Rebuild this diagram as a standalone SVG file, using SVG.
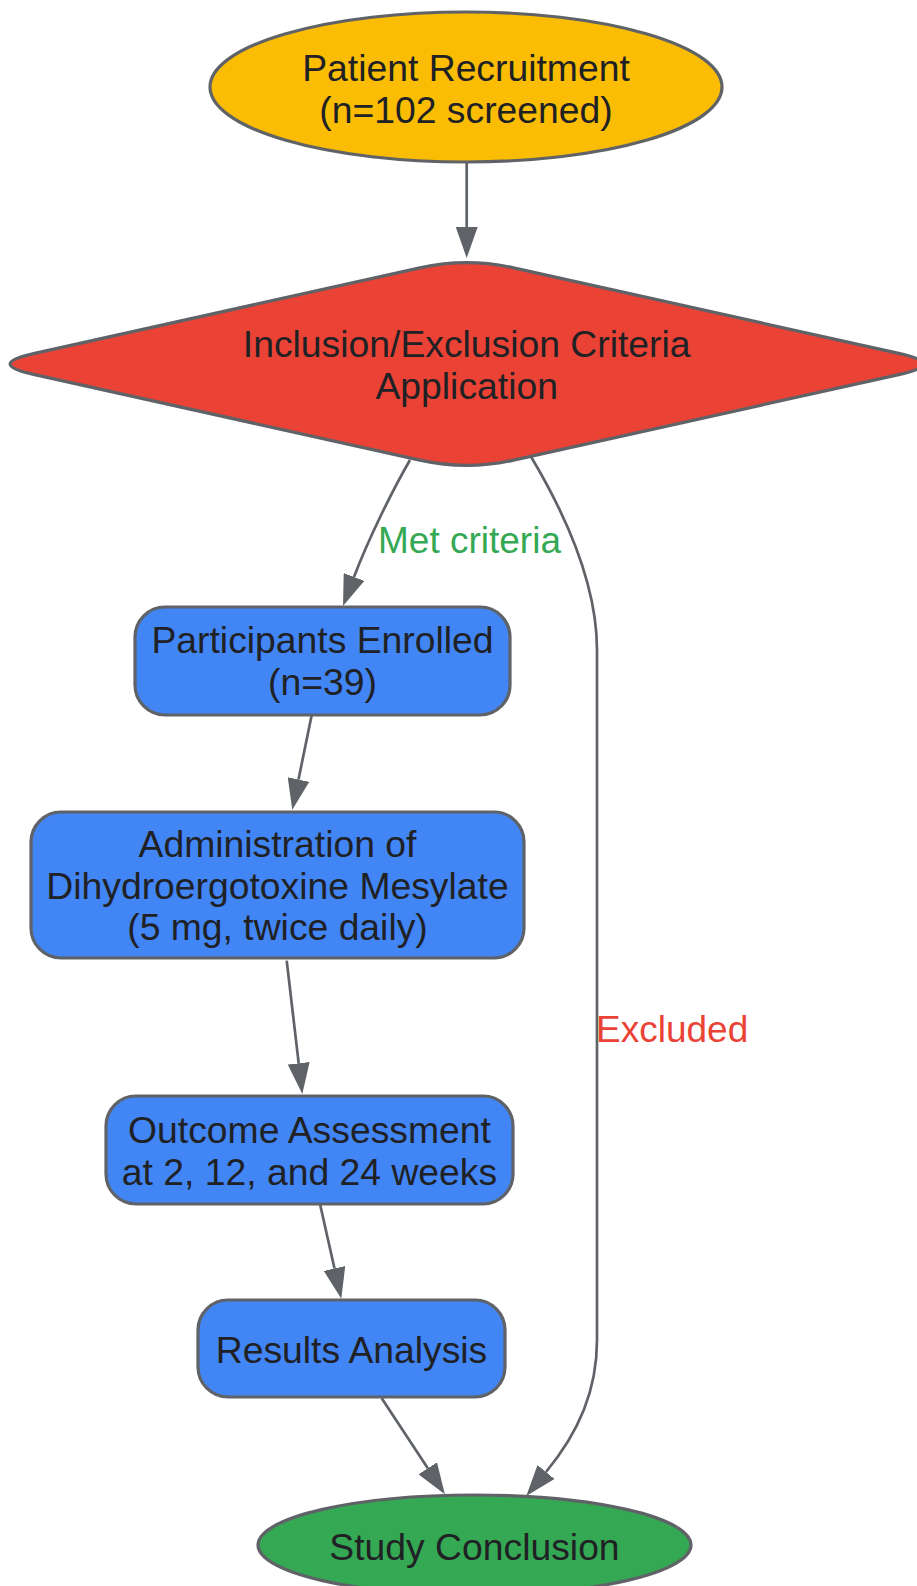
<svg xmlns="http://www.w3.org/2000/svg" width="917" height="1586" viewBox="0 0 917 1586">
<style>
.node{stroke:#5f6368;stroke-width:3.2}
.lbl{font-family:"Liberation Sans",Arial,sans-serif;font-size:37.3px;fill:#202124;text-anchor:middle}
.edge{fill:none;stroke:#5f6368;stroke-width:2.7}
.elbl{font-family:"Liberation Sans",Arial,sans-serif;font-size:37px}
</style>
<defs>
<marker id="arr" markerUnits="userSpaceOnUse" markerWidth="31" markerHeight="22" refX="0" refY="11" orient="auto" viewBox="0 0 31 22">
<path d="M0,0 L31,11 L0,22 z" fill="#5f6368"/>
</marker>
</defs>
<rect width="917" height="1586" fill="#ffffff"/>
<g id="connectors">
<path class="edge" d="M466.7,162 L466.7,227" marker-end="url(#arr)"/>
<path class="edge" d="M410,460 C392,491 368,540 354,577" marker-end="url(#arr)"/>
<path class="edge" d="M530,455 C560,505 597,580 597,650 L597,1340 C597,1390 579,1432 546,1472" marker-end="url(#arr)"/>
<path class="edge" d="M311.7,715 L298.5,779.5" marker-end="url(#arr)"/>
<path class="edge" d="M286.7,960.7 L298.7,1063.3" marker-end="url(#arr)"/>
<path class="edge" d="M320,1204 L334.5,1268.5" marker-end="url(#arr)"/>
<path class="edge" d="M381.7,1398.3 L427.8,1468.3" marker-end="url(#arr)"/>
<text class="elbl" x="378" y="553" fill="#34a853">Met criteria</text>
<text class="elbl" x="596" y="1042" fill="#ea4335">Excluded</text>
</g>
<g id="recruitment">
<ellipse class="node" cx="466" cy="87" rx="256" ry="75" fill="#fbbc04"/>
<text class="lbl" x="466" y="81">Patient Recruitment</text>
<text class="lbl" x="466" y="123">(n=102 screened)</text>
</g>
<g id="criteria">
<path class="node" fill="#ea4335" d="M419.84,267.9 Q466.7,257.5 513.56,267.9 L899.84,353.6 Q946.7,364 899.84,374.4 L513.56,460.1 Q466.7,470.5 419.84,460.1 L33.56,374.4 Q-13.3,364 33.56,353.6 Z"/>
<text class="lbl" x="466.7" y="357">Inclusion/Exclusion Criteria</text>
<text class="lbl" x="466.7" y="399">Application</text>
</g>
<g id="enrolled">
<rect class="node" x="135" y="607" width="375" height="108" rx="30" fill="#4285f4"/>
<text class="lbl" x="322.5" y="653">Participants Enrolled</text>
<text class="lbl" x="322.5" y="695">(n=39)</text>
</g>
<g id="administration">
<rect class="node" x="31" y="812" width="493" height="146" rx="30" fill="#4285f4"/>
<text class="lbl" x="277.5" y="857">Administration of</text>
<text class="lbl" x="277.5" y="899">Dihydroergotoxine Mesylate</text>
<text class="lbl" x="277.5" y="940">(5 mg, twice daily)</text>
</g>
<g id="outcome">
<rect class="node" x="106" y="1096" width="407" height="108" rx="30" fill="#4285f4"/>
<text class="lbl" x="309.5" y="1143">Outcome Assessment</text>
<text class="lbl" x="309.5" y="1185">at 2, 12, and 24 weeks</text>
</g>
<g id="results">
<rect class="node" x="198" y="1300" width="307" height="97" rx="30" fill="#4285f4"/>
<text class="lbl" x="351.5" y="1363">Results Analysis</text>
</g>
<g id="conclusion">
<ellipse class="node" cx="474.5" cy="1545" rx="216.5" ry="50" fill="#34a853"/>
<text class="lbl" x="474.5" y="1560">Study Conclusion</text>
</g>
</svg>
